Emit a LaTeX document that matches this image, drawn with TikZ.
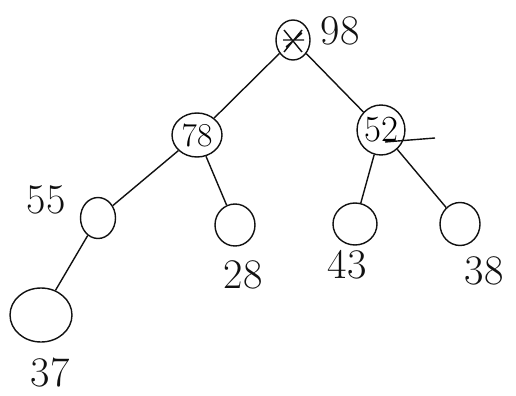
\documentclass[tikz,border=0pt]{standalone}
\usepackage{fontspec}
\usetikzlibrary{shapes.geometric}
\definecolor{ink}{HTML}{111111}

\begin{document}
\begin{tikzpicture}[x=0.02cm,y=-0.02cm,
  heapnode/.style={ellipse,draw=ink,thick,inner sep=0pt},
  heaplabel/.style={text=ink,font=\fontsize{24}{28}\selectfont}]
 \useasboundingbox (0,0) rectangle (516,395);
 % nodes of the heap
 \node[heapnode,minimum width=0.68cm,minimum height=0.8cm] (root) at (293,40) {};
 \node[heapnode,minimum width=1.0cm,minimum height=0.88cm,font=\fontsize{19}{22}\selectfont] (n78) at (197,135) {78};
 \node[heapnode,minimum width=0.88cm,minimum height=1.0cm,font=\fontsize{21}{24}\selectfont] (n52) at (381,130) {52};
 \node[heapnode,minimum width=0.7cm,minimum height=0.82cm] (n55) at (98,218) {};
 \node[heapnode,minimum width=0.8cm,minimum height=0.84cm] (n28) at (235,225) {};
 \node[heapnode,minimum width=0.88cm,minimum height=0.84cm] (n43) at (355,224) {};
 \node[heapnode,minimum width=0.8cm,minimum height=0.86cm] (n38) at (460,224) {};
 \node[heapnode,minimum width=1.24cm,minimum height=1.08cm] (n37) at (41,315) {};
 % crossed-out value in the root
 \draw[ink,thick] (284,30)--(302,52) (302,30)--(284,52) (283,40)--(304,40) (286,47)--(302,33);
 % values written beside the nodes
 \node[heaplabel] (l98) at (340,31) {98};
 \node[heaplabel] (l55) at (46,200) {55};
 \node[heaplabel] (l28) at (243,275) {28};
 \node[heaplabel] (l43) at (347,265) {43};
 \node[heaplabel] (l38) at (484,271) {38};
 \node[heaplabel] (l37) at (50,373) {37};
 % edges
 \draw[ink,thick] (root)--(n78);
 \draw[ink,thick] (root)--(n52);
 \draw[ink,thick] (n78)--(n55);
 \draw[ink,thick] (n78)--(n28);
 \draw[ink,thick] (n52)--(n43);
 \draw[ink,thick] (n52)--(n38);
 \draw[ink,thick] (n55)--(n37);
 \coordinate (stray) at (435,138);
 \draw[ink,thick] (n52.center)++(4,12)--(stray);
\end{tikzpicture}
\end{document}
